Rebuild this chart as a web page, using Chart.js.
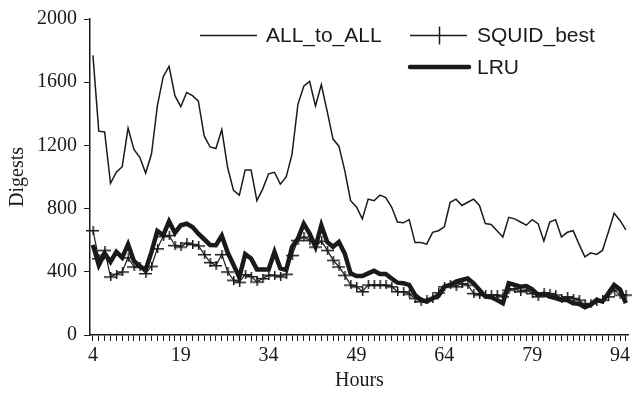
<!DOCTYPE html>
<html>
<head>
<meta charset="utf-8">
<script src="https://cdn.jsdelivr.net/npm/chart.js@4"></script>
<style>
  body { margin: 0; background: #fff; }
  #wrap { width: 634px; height: 393px; }
</style>
</head>
<body>
<div id="wrap"><canvas id="chart"></canvas></div>
<script>
// hours on the x axis, one point per hour
const hours = [4,5,6,7,8,9,10,11,12,13,14,15,16,17,18,19,20,21,22,23,
  24,25,26,27,28,29,30,31,32,33,34,35,36,37,38,39,40,41,42,43,
  44,45,46,47,48,49,50,51,52,53,54,55,56,57,58,59,60,61,62,63,
  64,65,66,67,68,69,70,71,72,73,74,75,76,77,78,79,80,81,82,83,
  84,85,86,87,88,89,90,91,92,93,94,95];
const labelEvery = [4, 19, 34, 49, 64, 79, 94];
const yTicks = [0, 400, 800, 1200, 1600, 2000];

const allToAll = [1770,1290,1285,960,1030,1065,1310,1175,1125,1025,
  1145,1450,1635,1700,1515,1445,1535,1515,1480,1260,
  1190,1180,1300,1060,915,885,1045,1045,850,925,
  1020,1030,955,1000,1145,1460,1575,1605,1450,1585,
  1415,1240,1195,1040,850,810,735,860,850,885,
  870,810,715,710,730,585,585,575,650,660,
  685,840,860,820,840,860,820,705,700,660,
  620,745,735,715,695,730,705,595,715,730,
  620,650,660,575,495,520,510,535,650,770,
  725,665];

const squidBest = [662,484,537,369,386,400,490,432,432,390,
  436,547,625,631,568,558,583,574,565,510,
  460,440,510,400,348,335,383,371,337,358,
  379,379,369,386,505,600,621,600,558,595,
  537,474,432,379,317,306,275,317,317,317,
  317,306,275,275,260,233,212,222,233,268,
  306,317,306,327,317,264,254,254,254,254,
  243,285,295,275,285,264,243,268,264,254,
  233,243,233,222,191,201,212,222,243,285,
  254,254];

const lru = [570,442,516,463,526,490,574,469,436,411,
  526,658,631,719,646,694,704,683,641,606,
  570,568,628,523,445,365,512,484,415,415,
  415,526,421,411,558,610,704,642,558,694,
  589,558,589,516,390,373,373,390,407,386,
  386,358,331,327,317,254,222,212,233,247,
  306,317,338,348,358,327,285,243,239,222,
  201,327,317,306,310,289,254,260,243,233,
  222,222,201,197,176,191,222,212,264,317,
  289,201];

const ink = '#1a1a1a';
const serif = '"Liberation Serif", "DejaVu Serif", serif';
const sans = '"Liberation Sans", Arial, sans-serif';

// "+" marker, wider than tall like the original
const plus = document.createElement('canvas');
plus.width = 13;
plus.height = 9;
const pctx = plus.getContext('2d');
pctx.fillStyle = ink;
pctx.fillRect(0, 4, 13, 1.5);
pctx.fillRect(6, 0, 1.5, 9);

// legend drawn inside the plot, top right
const legendSpots = [
  { x0: 200, x1: 257, y: 35.5, tx: 266 },
  { x0: 410, x1: 467, y: 35.5, tx: 477 },
  { x0: 410, x1: 469, y: 67, tx: 477 }
];

const insideLegend = {
  id: 'insideLegend',
  afterDraw(chart) {
    const ctx = chart.ctx;
    ctx.save();
    chart.data.datasets.forEach((ds, i) => {
      const s = legendSpots[i];
      ctx.strokeStyle = ink;
      ctx.lineWidth = ds.borderWidth > 2 ? ds.borderWidth : 1.3;
      ctx.lineCap = ds.borderWidth > 2 ? 'round' : 'butt';
      ctx.beginPath();
      ctx.moveTo(s.x0, s.y);
      ctx.lineTo(s.x1, s.y);
      ctx.stroke();
      if (ds.pointStyle === plus) {
        const mid = Math.round((s.x0 + s.x1) / 2) + 0.5;
        ctx.lineWidth = 1.5;
        ctx.beginPath();
        ctx.moveTo(mid, s.y - 9);
        ctx.lineTo(mid, s.y + 9);
        ctx.stroke();
      }
      ctx.fillStyle = ink;
      ctx.font = '21px ' + sans;
      ctx.textBaseline = 'middle';
      ctx.textAlign = 'left';
      ctx.fillText(ds.label, s.tx, s.y + 1);
    });
    ctx.restore();
  }
};

new Chart(document.getElementById('chart'), {
  type: 'line',
  data: {
    labels: hours,
    datasets: [
      {
        label: 'ALL_to_ALL',
        data: allToAll,
        borderColor: ink,
        borderWidth: 1.5,
        pointRadius: 0,
        tension: 0
      },
      {
        label: 'SQUID_best',
        data: squidBest,
        borderColor: ink,
        borderWidth: 1.2,
        pointStyle: plus,
        pointRadius: 3,
        tension: 0
      },
      {
        label: 'LRU',
        data: lru,
        borderColor: ink,
        borderWidth: 4.5,
        pointRadius: 0,
        tension: 0
      }
    ]
  },
  options: {
    responsive: true,
    maintainAspectRatio: false,
    animation: false,
    events: [],
    layout: { padding: { top: 17, right: 1, left: 0, bottom: 0 } },
    plugins: {
      legend: { display: false },
      tooltip: { enabled: false }
    },
    scales: {
      x: {
        type: 'category',
        offset: true,
        grid: {
          drawOnChartArea: false,
          drawTicks: true,
          tickLength: 6,
          color: ink,
          offset: false
        },
        border: { display: true, color: ink, width: 1.5 },
        ticks: {
          autoSkip: false,
          maxRotation: 0,
          padding: 3,
          color: ink,
          font: { family: serif, size: 20 },
          callback: (value, index) => labelEvery.includes(hours[index]) ? String(hours[index]) : ''
        },
        title: {
          display: true,
          text: 'Hours',
          color: ink,
          font: { family: serif, size: 20 },
          padding: { top: 1, bottom: 0 }
        },
        afterFit: (scale) => { scale.height = 58; }
      },
      y: {
        min: 0,
        max: 2000,
        grid: {
          drawOnChartArea: false,
          drawTicks: true,
          tickLength: 6,
          color: ink
        },
        border: { display: true, color: ink, width: 1.5 },
        afterBuildTicks: (scale) => { scale.ticks = yTicks.map(v => ({ value: v })); },
        ticks: {
          padding: 7,
          color: ink,
          font: { family: serif, size: 20 },
          callback: (value) => String(value)
        },
        title: {
          display: true,
          text: 'Digests',
          color: ink,
          font: { family: serif, size: 20 },
          padding: { top: 6, bottom: 0 }
        },
        afterFit: (scale) => { scale.width = 90; }
      }
    }
  },
  plugins: [insideLegend]
});
</script>
</body>
</html>
